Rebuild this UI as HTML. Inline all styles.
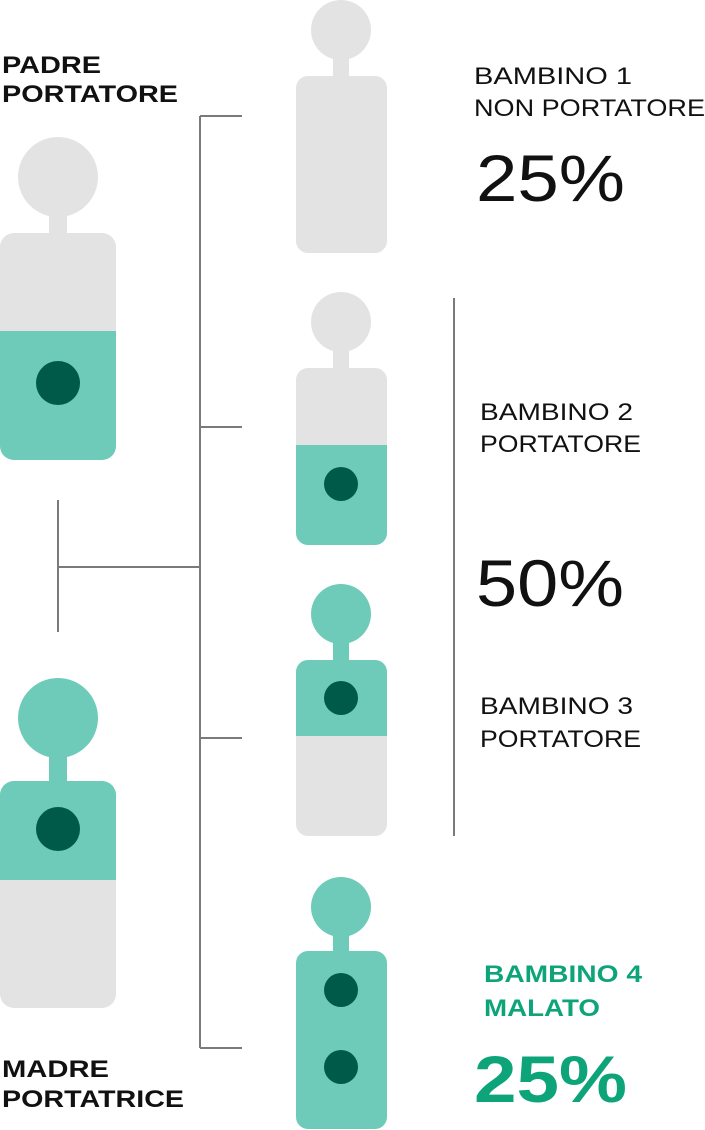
<!DOCTYPE html>
<html><head><meta charset="utf-8"><style>
html,body{margin:0;padding:0;background:#fff;}
svg{display:block;}
text{font-family:"Liberation Sans",sans-serif;}
</style></head><body>
<svg width="705" height="1130" viewBox="0 0 705 1130" xmlns="http://www.w3.org/2000/svg">
<defs>
<clipPath id="fb"><rect x="0" y="233" width="116" height="227" rx="14"/></clipPath>
<clipPath id="mb"><rect x="0" y="781" width="116" height="227" rx="14"/></clipPath>
<clipPath id="c2"><rect x="296" y="368" width="91" height="177" rx="12"/></clipPath>
<clipPath id="c3"><rect x="296" y="660" width="91" height="176" rx="12"/></clipPath>
</defs>
<g stroke="#7a7a7a" stroke-width="2" fill="none">
<line x1="58" y1="500" x2="58" y2="632"/>
<line x1="58" y1="567" x2="200" y2="567"/>
<line x1="200" y1="116" x2="200" y2="1048"/>
<line x1="200" y1="116" x2="242" y2="116"/>
<line x1="200" y1="427" x2="242" y2="427"/>
<line x1="200" y1="738" x2="242" y2="738"/>
<line x1="200" y1="1048" x2="242" y2="1048"/>
<line x1="454" y1="298" x2="454" y2="836"/>
</g>
<circle cx="58" cy="177" r="40" fill="#e3e3e3"/>
<rect x="49" y="212" width="18" height="25" fill="#e3e3e3"/>
<g clip-path="url(#fb)"><rect x="0" y="233" width="116" height="227" fill="#e3e3e3"/><rect x="0" y="331" width="116" height="130" fill="#6ecbb9"/></g>
<circle cx="58" cy="383" r="22" fill="#005a4a"/>
<circle cx="58" cy="718" r="40" fill="#6ecbb9"/>
<rect x="49" y="753" width="18" height="30" fill="#6ecbb9"/>
<g clip-path="url(#mb)"><rect x="0" y="781" width="116" height="227" fill="#e3e3e3"/><rect x="0" y="781" width="116" height="99" fill="#6ecbb9"/></g>
<circle cx="58" cy="829" r="22" fill="#005a4a"/>
<circle cx="341" cy="30" r="30" fill="#e3e3e3"/>
<rect x="333" y="55" width="16" height="24" fill="#e3e3e3"/>
<rect x="296" y="76" width="91" height="177" rx="12" fill="#e3e3e3"/>
<circle cx="341" cy="322" r="30" fill="#e3e3e3"/>
<rect x="333" y="347" width="16" height="24" fill="#e3e3e3"/>
<g clip-path="url(#c2)"><rect x="296" y="368" width="91" height="177" fill="#e3e3e3"/><rect x="296" y="445" width="91" height="100" fill="#6ecbb9"/></g>
<circle cx="341" cy="484" r="17" fill="#005a4a"/>
<circle cx="341" cy="614" r="30" fill="#6ecbb9"/>
<rect x="333" y="639" width="16" height="24" fill="#6ecbb9"/>
<g clip-path="url(#c3)"><rect x="296" y="660" width="91" height="176" fill="#e3e3e3"/><rect x="296" y="660" width="91" height="76" fill="#6ecbb9"/></g>
<circle cx="341" cy="698" r="17" fill="#005a4a"/>
<circle cx="341" cy="907" r="30" fill="#6ecbb9"/>
<rect x="333" y="932" width="16" height="24" fill="#6ecbb9"/>
<rect x="296" y="951" width="91" height="178" rx="12" fill="#6ecbb9"/>
<circle cx="341" cy="990" r="17" fill="#005a4a"/>
<circle cx="341" cy="1067" r="17" fill="#005a4a"/>
<g font-size="24" fill="#111" lengthAdjust="spacingAndGlyphs">
<text x="2" y="73" font-weight="bold" textLength="99" lengthAdjust="spacingAndGlyphs">PADRE</text>
<text x="2" y="102" font-weight="bold" textLength="176" lengthAdjust="spacingAndGlyphs">PORTATORE</text>
<text x="2" y="1077" font-weight="bold" textLength="107" lengthAdjust="spacingAndGlyphs">MADRE</text>
<text x="2" y="1107" font-weight="bold" textLength="182" lengthAdjust="spacingAndGlyphs">PORTATRICE</text>
<text x="474" y="84" textLength="158" lengthAdjust="spacingAndGlyphs">BAMBINO 1</text>
<text x="474" y="116" textLength="231" lengthAdjust="spacingAndGlyphs">NON PORTATORE</text>
<text x="480" y="420" textLength="153" lengthAdjust="spacingAndGlyphs">BAMBINO 2</text>
<text x="480" y="452" textLength="161" lengthAdjust="spacingAndGlyphs">PORTATORE</text>
<text x="480" y="714" textLength="153" lengthAdjust="spacingAndGlyphs">BAMBINO 3</text>
<text x="480" y="747" textLength="161" lengthAdjust="spacingAndGlyphs">PORTATORE</text>
</g>
<text x="476" y="201" font-size="66" fill="#111" textLength="149" lengthAdjust="spacingAndGlyphs">25%</text>
<text x="476" y="606" font-size="66" fill="#111" textLength="148" lengthAdjust="spacingAndGlyphs">50%</text>
<g fill="#0ea47a" font-weight="bold">
<text x="484" y="982" font-size="24" textLength="158" lengthAdjust="spacingAndGlyphs">BAMBINO 4</text>
<text x="484" y="1016" font-size="24" textLength="116" lengthAdjust="spacingAndGlyphs">MALATO</text>
<text x="474" y="1102" font-size="66" textLength="153" lengthAdjust="spacingAndGlyphs">25%</text>
</g>
</svg>
</body></html>
